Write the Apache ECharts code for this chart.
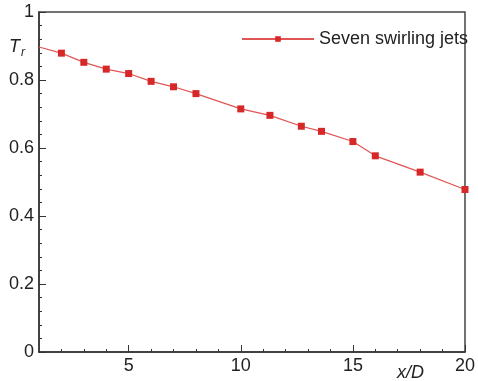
<!DOCTYPE html>
<html>
<head>
<meta charset="utf-8">
<script src="https://cdn.jsdelivr.net/npm/echarts@6/dist/echarts.min.js"></script>
<style>
  html, body { margin: 0; padding: 0; background: #fff; }
  #chart { width: 478px; height: 381px; }
</style>
</head>
<body>
<div id="chart"></div>
<script>
// x/D positions and measured T_r
const xd = [1, 2, 3, 4, 5, 6, 7, 8, 10, 11.3, 12.7, 13.6, 15, 16, 18, 20];
const tr = [0.897, 0.879, 0.852, 0.832, 0.819, 0.796, 0.78, 0.76, 0.715, 0.696, 0.664, 0.649, 0.619, 0.577, 0.529, 0.478];
const xMajor = [5, 10, 15, 20];
const xMinor = [2, 3, 4, 6, 7, 8, 9, 11, 12, 13, 14, 16, 17, 18, 19];
const seriesName = 'Seven swirling jets';

const font = 'Liberation Sans, Arial, sans-serif';
const axisColor = '#333';
const textColor = '#222';

const chart = echarts.init(document.getElementById('chart'));

const points = xd.map((x, i) => {
	// first point is only the start of the line, no marker
	if (i === 0) return { value: [x, tr[i]], symbol: 'none' };
	return [x, tr[i]];
});

const option = {
	animation: false,
	grid: {
		left: 39,
		top: 12,
		right: 7,
		bottom: 29,
		show: true,
		borderColor: '#444',
		borderWidth: 1.5
	},
	legend: {
		data: [seriesName],
		left: 236,
		top: 25,
		itemWidth: 72,
		itemHeight: 7,
		itemGap: 10,
		textStyle: { fontFamily: font, fontSize: 18, color: textColor }
	},
	xAxis: [
		{
			type: 'value',
			min: 1,
			max: 20,
			splitLine: { show: false },
			axisLine: { lineStyle: { color: axisColor, width: 1.5 } },
			axisTick: { inside: true, length: 7, customValues: xMajor, lineStyle: { color: axisColor } },
			axisLabel: { customValues: xMajor, margin: 5, fontFamily: font, fontSize: 18, color: textColor }
		},
		{
			type: 'value',
			min: 1,
			max: 20,
			position: 'bottom',
			splitLine: { show: false },
			axisLine: { show: false },
			axisTick: { inside: true, length: 3, customValues: xMinor, lineStyle: { color: axisColor } },
			axisLabel: { show: false }
		}
	],
	yAxis: {
		type: 'value',
		min: 0,
		max: 1,
		interval: 0.2,
		splitLine: { show: false },
		axisLine: { lineStyle: { color: axisColor, width: 1.5 } },
		axisTick: { inside: true, length: 7, lineStyle: { color: axisColor } },
		minorTick: { show: true, splitNumber: 5, length: 3, lineStyle: { color: axisColor } },
		axisLabel: { margin: 5, fontFamily: font, fontSize: 18, color: textColor }
	},
	graphic: [
		{
			type: 'text',
			left: 9,
			top: 38,
			style: {
				text: '{t|T}{s|r}',
				rich: {
					t: { fontFamily: font, fontSize: 18, fontStyle: 'italic', fill: textColor },
					s: { fontFamily: font, fontSize: 12, fontStyle: 'italic', fill: textColor, padding: [12, 0, 0, 1] }
				}
			}
		},
		{
			type: 'text',
			left: 397,
			top: 364,
			style: { text: 'x/D', fontFamily: font, fontSize: 18, fontStyle: 'italic', fill: textColor }
		}
	],
	series: [
		{
			name: seriesName,
			type: 'line',
			data: points,
			symbol: 'rect',
			symbolSize: 7,
			color: '#d62828',
			lineStyle: { color: '#e05555', width: 1.2 },
			itemStyle: { color: '#d62828' }
		}
	]
};

chart.setOption(option);
</script>
</body>
</html>
